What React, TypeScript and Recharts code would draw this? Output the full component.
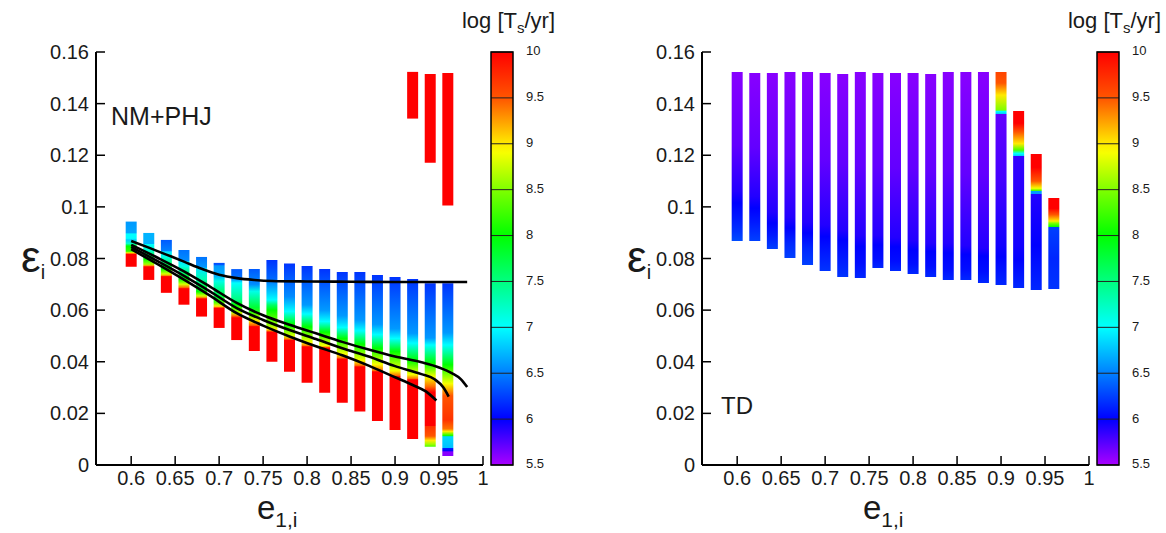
import React from 'react';
import { ComposedChart, XAxis, YAxis, ReferenceArea, Line } from 'recharts';

// ---------- data ----------
const E_GRID = [0.6, 0.62, 0.64, 0.66, 0.68, 0.7, 0.72, 0.74, 0.76, 0.78, 0.8, 0.82, 0.84, 0.86, 0.88, 0.9, 0.92, 0.94, 0.96];

const X_TICKS = [0.6, 0.65, 0.7, 0.75, 0.8, 0.85, 0.9, 0.95, 1];
const X_TICK_LABELS = ['0.6', '0.65', '0.7', '0.75', '0.8', '0.85', '0.9', '0.95', '1'];
const Y_TICKS = [0, 0.02, 0.04, 0.06, 0.08, 0.1, 0.12, 0.14, 0.16];
const Y_TICK_LABELS = ['0', '0.02', '0.04', '0.06', '0.08', '0.1', '0.12', '0.14', '0.16'];
const CBAR_TICKS = [5.5, 6, 6.5, 7, 7.5, 8, 8.5, 9, 9.5, 10];
const CBAR_LABELS = ['5.5', '6', '6.5', '7', '7.5', '8', '8.5', '9', '9.5', '10'];

// colour map anchors: log Ts -> hue
const HUE_V = [5.5, 6, 6.5, 7, 7.5, 8, 8.5, 9, 9.5, 10];
const HUE_H = [280, 240, 210, 180, 150, 120, 90, 55, 20, 0];

type Stop = [number, number]; // [epsilon, log Ts]

// NM+PHJ panel: per column, bands of stops (top -> bottom)
const NM_COLUMNS: Stop[][][] = [
  [[[0.0943, 6.6], [0.09, 6.65], [0.0895, 7.0], [0.0878, 7.0], [0.0872, 6.8], [0.0858, 7.2], [0.0848, 8.0], [0.0828, 8.2], [0.0822, 9.0], [0.0818, 9.6], [0.0816, 10], [0.0768, 10]]],
  [[[0.0899, 6.7], [0.0858, 6.7], [0.0855, 7.0], [0.083, 7.2], [0.0798, 8.0], [0.0778, 8.6], [0.0772, 9.3], [0.0768, 10], [0.0717, 10]]],
  [[[0.0872, 6.35], [0.083, 6.5], [0.0826, 6.9], [0.0805, 7.1], [0.076, 8.0], [0.074, 8.8], [0.0732, 9.4], [0.073, 10], [0.0667, 10]]],
  [[[0.0833, 6.45], [0.0792, 6.55], [0.0788, 6.9], [0.077, 7.1], [0.072, 8.0], [0.07, 8.8], [0.0688, 9.4], [0.0683, 10], [0.0621, 10]]],
  [[[0.0806, 6.45], [0.0766, 6.6], [0.0762, 6.9], [0.072, 7.3], [0.0672, 8.0], [0.0655, 8.8], [0.0647, 9.4], [0.0644, 10], [0.0575, 10]]],
  [[[0.0783, 6.3], [0.0775, 6.35], [0.0772, 6.6], [0.0732, 6.7], [0.0712, 7.1], [0.065, 7.8], [0.063, 8.3], [0.0615, 9.0], [0.061, 9.5], [0.0608, 10], [0.0531, 10]]],
  [[[0.0759, 6.35], [0.0724, 6.45], [0.0705, 7.0], [0.064, 7.5], [0.062, 8.0], [0.059, 8.7], [0.0578, 9.4], [0.057, 10], [0.0484, 10]]],
  [[[0.0759, 6.35], [0.07, 6.55], [0.0672, 7.1], [0.061, 7.8], [0.059, 8.2], [0.0558, 9.0], [0.054, 9.5], [0.0536, 10], [0.0442, 10]]],
  [[[0.0794, 6.2], [0.0724, 6.4], [0.064, 7.0], [0.062, 7.6], [0.06, 8.0], [0.054, 8.6], [0.0525, 9.0], [0.0518, 9.5], [0.0515, 10], [0.04, 10]]],
  [[[0.0781, 6.2], [0.0652, 6.55], [0.0595, 7.0], [0.0545, 8.0], [0.05, 8.8], [0.0487, 9.4], [0.0484, 10], [0.0361, 10]]],
  [[[0.0771, 6.2], [0.062, 6.6], [0.0585, 7.0], [0.0535, 8.0], [0.0475, 8.9], [0.0462, 9.4], [0.0458, 10], [0.0319, 10]]],
  [[[0.0759, 6.2], [0.06, 6.6], [0.0556, 7.0], [0.0515, 8.0], [0.0462, 8.9], [0.0456, 9.4], [0.0454, 10], [0.028, 10]]],
  [[[0.0748, 6.2], [0.0578, 6.6], [0.0533, 7.0], [0.049, 8.0], [0.043, 8.9], [0.0415, 9.4], [0.041, 10], [0.0241, 10]]],
  [[[0.0748, 6.2], [0.0562, 6.6], [0.052, 7.0], [0.0468, 8.0], [0.0405, 8.9], [0.0386, 9.4], [0.038, 10], [0.0207, 10]]],
  [[[0.0736, 6.2], [0.0545, 6.6], [0.0505, 7.0], [0.0452, 8.0], [0.039, 8.9], [0.0366, 9.4], [0.0361, 10], [0.017, 10]]],
  [[[0.0728, 6.2], [0.0528, 6.6], [0.049, 7.0], [0.044, 8.0], [0.0365, 8.9], [0.0347, 9.4], [0.0342, 10], [0.0136, 10]]],
  [[[0.1523, 10], [0.1342, 10]], [[0.0721, 6.2], [0.051, 6.6], [0.0472, 7.0], [0.0405, 8.0], [0.035, 8.9], [0.0335, 9.4], [0.033, 10], [0.0101, 10]]],
  [[[0.1515, 10], [0.1171, 10]], [[0.0704, 6.2], [0.0492, 6.6], [0.0465, 7.0], [0.0395, 8.0], [0.0342, 8.9], [0.0305, 9.4], [0.0282, 10], [0.0152, 10], [0.015, 9.7], [0.0112, 9.5], [0.0095, 9.0], [0.008, 8.6], [0.0071, 8.3]]],
  [[[0.1519, 10], [0.1005, 10]], [[0.0704, 6.2], [0.0512, 6.6], [0.0465, 7.0], [0.0388, 8.0], [0.0315, 8.9], [0.0268, 9.5], [0.0175, 9.7], [0.014, 9.4], [0.013, 9.0], [0.0118, 8.3], [0.0112, 8.0], [0.011, 6.85], [0.0065, 6.75], [0.0064, 6.1], [0.0053, 6.0], [0.0052, 5.6], [0.0035, 5.6]]],
];

// TD panel: one band per column (top -> bottom)
const TD_COLUMNS: Stop[][][] = [
  [[[0.1523, 5.6], [0.124, 5.71], [0.106, 5.9], [0.1015, 6.0], [0.0955, 6.1], [0.0905, 6.2], [0.0868, 6.3]]],
  [[[0.1519, 5.6], [0.123, 5.71], [0.104, 5.9], [0.0995, 6.0], [0.094, 6.1], [0.0868, 6.25]]],
  [[[0.1519, 5.6], [0.121, 5.71], [0.098, 5.9], [0.0937, 6.0], [0.089, 6.1], [0.0837, 6.25]]],
  [[[0.1523, 5.6], [0.12, 5.71], [0.096, 5.9], [0.0918, 6.0], [0.086, 6.15], [0.0802, 6.25]]],
  [[[0.1523, 5.6], [0.119, 5.71], [0.094, 5.9], [0.0899, 6.0], [0.084, 6.15], [0.0775, 6.25]]],
  [[[0.1519, 5.6], [0.118, 5.71], [0.093, 5.9], [0.0885, 6.0], [0.082, 6.1], [0.0752, 6.2]]],
  [[[0.1515, 5.6], [0.117, 5.71], [0.091, 5.9], [0.0872, 6.0], [0.08, 6.1], [0.0728, 6.2]]],
  [[[0.1523, 5.6], [0.116, 5.71], [0.089, 5.9], [0.0846, 6.0], [0.078, 6.05], [0.0724, 6.15]]],
  [[[0.1519, 5.6], [0.116, 5.71], [0.089, 5.9], [0.0852, 6.0], [0.08, 6.05], [0.0763, 6.15]]],
  [[[0.1519, 5.6], [0.115, 5.71], [0.088, 5.9], [0.0845, 6.0], [0.079, 6.05], [0.0752, 6.15]]],
  [[[0.1519, 5.6], [0.115, 5.71], [0.087, 5.9], [0.0833, 6.0], [0.078, 6.05], [0.074, 6.15]]],
  [[[0.1515, 5.6], [0.114, 5.71], [0.086, 5.9], [0.0827, 6.0], [0.077, 6.05], [0.0728, 6.15]]],
  [[[0.1523, 5.6], [0.114, 5.71], [0.086, 5.9], [0.0821, 6.0], [0.076, 6.05], [0.0717, 6.15]]],
  [[[0.1523, 5.6], [0.113, 5.71], [0.085, 5.9], [0.0815, 6.0], [0.076, 6.05], [0.0717, 6.15]]],
  [[[0.1523, 5.6], [0.113, 5.71], [0.084, 5.9], [0.081, 6.0], [0.075, 6.05], [0.0705, 6.15]]],
  [[[0.1523, 9.6], [0.148, 9.5], [0.1433, 9.0], [0.1375, 8.5], [0.137, 7.0], [0.136, 6.8], [0.1359, 5.71], [0.11, 5.8], [0.085, 5.95], [0.0807, 6.0], [0.0697, 6.15]]],
  [[[0.1371, 10], [0.1324, 10], [0.129, 9.5], [0.1245, 9.0], [0.122, 8.3], [0.1207, 7.0], [0.1197, 6.8], [0.1196, 5.85], [0.085, 5.95], [0.0794, 6.0], [0.0686, 6.15]]],
  [[[0.1205, 10], [0.1153, 10], [0.11, 9.5], [0.1072, 8.9], [0.1062, 8.2], [0.1061, 6.6], [0.105, 6.6], [0.1049, 5.9], [0.085, 6.0], [0.0678, 6.15]]],
  [[[0.1034, 10], [0.0994, 10], [0.097, 9.5], [0.0945, 9.0], [0.0937, 8.5], [0.0922, 8.0], [0.0921, 6.25], [0.08, 6.15], [0.0682, 6.2]]],
];

// black curves, NM+PHJ panel: [e, epsilon]
const CURVE_A: Stop[] = [[0.6, 0.0868], [0.62, 0.0842], [0.64, 0.0815], [0.66, 0.0788], [0.68, 0.076], [0.7, 0.0737], [0.72, 0.0724], [0.74, 0.0717], [0.76, 0.0713], [0.8, 0.0711], [0.85, 0.071], [0.9, 0.0709], [0.95, 0.0709], [0.982, 0.0709]];
const CURVE_B: Stop[] = [[0.6, 0.0853], [0.63, 0.0803], [0.66, 0.075], [0.69, 0.069], [0.72, 0.0628], [0.75, 0.058], [0.78, 0.0543], [0.81, 0.051], [0.84, 0.0477], [0.87, 0.0447], [0.9, 0.042], [0.93, 0.0398], [0.95, 0.0378], [0.965, 0.0355], [0.975, 0.0332], [0.982, 0.0302]];
const CURVE_C: Stop[] = [[0.6, 0.0845], [0.63, 0.079], [0.66, 0.0733], [0.69, 0.0672], [0.72, 0.0608], [0.75, 0.0562], [0.78, 0.0523], [0.81, 0.0488], [0.84, 0.0452], [0.87, 0.042], [0.9, 0.0383], [0.93, 0.0352], [0.945, 0.0332], [0.955, 0.03], [0.961, 0.0265]];
const CURVE_D: Stop[] = [[0.6, 0.0836], [0.63, 0.0778], [0.66, 0.0718], [0.69, 0.0655], [0.72, 0.0588], [0.75, 0.054], [0.78, 0.0498], [0.81, 0.046], [0.84, 0.0425], [0.87, 0.0385], [0.9, 0.034], [0.92, 0.031], [0.935, 0.0285], [0.947, 0.025]];
const NM_CURVES = [CURVE_A, CURVE_B, CURVE_C, CURVE_D];

// ---------- styling ----------
const FONT = "'Liberation Sans', Arial, Helvetica, sans-serif";
const CHART_W = 583;
const CHART_H = 533;
const PANEL_OFFSET = 606;
const HALF_W = 0.00625;
const CB = { x: 491, w: 22, top: 52, bottom: 465 };

function hueOf(v: number): number {
  const c = Math.max(HUE_V[0], Math.min(HUE_V[HUE_V.length - 1], v));
  for (let i = 0; i < HUE_V.length - 1; i++) {
    if (c <= HUE_V[i + 1]) {
      const t = (c - HUE_V[i]) / (HUE_V[i + 1] - HUE_V[i]);
      return HUE_H[i] + t * (HUE_H[i + 1] - HUE_H[i]);
    }
  }
  return HUE_H[HUE_H.length - 1];
}
const colorOf = (v: number) => `hsl(${hueOf(v).toFixed(1)},100%,50%)`;

function bandGradient(id: string, band: Stop[]) {
  const top = band[0][0];
  const bot = band[band.length - 1][0];
  const span = top - bot || 1;
  return (
    <linearGradient key={id} id={id} x1="0" y1="0" x2="0" y2="1">
      {band.map((s, i) => (
        <stop key={i} offset={((top - s[0]) / span).toFixed(4)} stopColor={colorOf(s[1])} />
      ))}
    </linearGradient>
  );
}

function Panel({ columns, prefix, curves }: { columns: Stop[][][]; prefix: string; curves: Stop[][] }) {
  const axisLine = { stroke: '#000', strokeWidth: 2 };
  const tickLine = { stroke: '#000', strokeWidth: 1.5 };
  const tickStyle = { fill: '#1a1a1a', fontSize: 20, fontFamily: FONT };
  return (
    <ComposedChart width={CHART_W} height={CHART_H} margin={{ top: 52, right: 100, bottom: 0, left: 0 }}>
      <XAxis
        xAxisId="b" dataKey="x" type="number" domain={[0.56, 1]} allowDataOverflow ticks={X_TICKS} interval={0}
        tickFormatter={(v: number) => X_TICK_LABELS[X_TICKS.indexOf(v)] ?? ''}
        orientation="bottom" height={68} tickSize={-9} tickMargin={15}
        axisLine={axisLine} tickLine={tickLine} tick={tickStyle}
      />
      <XAxis
        xAxisId="t" dataKey="x" type="number" domain={[0.56, 1]} allowDataOverflow ticks={X_TICKS} interval={0}
        tickFormatter={() => ''} orientation="top" height={0} tickSize={-9}
        axisLine={axisLine} tickLine={tickLine}
      />
      <YAxis
        yAxisId="l" type="number" domain={[0, 0.16]} allowDataOverflow ticks={Y_TICKS} interval={0}
        tickFormatter={(v: number) => Y_TICK_LABELS[Y_TICKS.indexOf(v)] ?? ''}
        orientation="left" width={96} tickSize={-9} tickMargin={16}
        axisLine={axisLine} tickLine={tickLine} tick={tickStyle}
      />
      <YAxis
        yAxisId="r" type="number" domain={[0, 0.16]} allowDataOverflow ticks={Y_TICKS} interval={0}
        tickFormatter={() => ''} orientation="right" width={0} tickSize={-9}
        axisLine={axisLine} tickLine={tickLine}
      />
      {columns.flatMap((bands, ci) =>
        bands.map((band, bi) => (
          <ReferenceArea
            key={`${prefix}-${ci}-${bi}`}
            xAxisId="b" yAxisId="l"
            x1={E_GRID[ci] - HALF_W} x2={E_GRID[ci] + HALF_W}
            y1={band[band.length - 1][0]} y2={band[0][0]}
            fill={`url(#${prefix}-${ci}-${bi})`} fillOpacity={1} stroke="none"
            ifOverflow="visible"
          />
        ))
      )}
      {curves.map((c, i) => (
        <Line
          key={`curve-${i}`}
          xAxisId="b" yAxisId="l"
          data={c.map(([x, y]) => ({ x, y }))}
          dataKey="y" type="monotone" stroke="#000" strokeWidth={2.6}
          dot={false} activeDot={false} isAnimationActive={false}
        />
      ))}
    </ComposedChart>
  );
}

function ColorBar({ dx }: { dx: number }) {
  const yOf = (v: number) => CB.bottom - ((v - 5.5) / 4.5) * (CB.bottom - CB.top);
  const fine: number[] = [];
  for (let k = 0; k <= 45; k++) fine.push(10 - k * 0.1);
  return (
    <g transform={`translate(${dx},0)`}>
      <defs>
        <linearGradient id={`cbar-${dx}`} x1="0" y1="0" x2="0" y2="1">
          {fine.map((v, i) => (
            <stop key={i} offset={((10 - v) / 4.5).toFixed(4)} stopColor={colorOf(v)} />
          ))}
        </linearGradient>
      </defs>
      <rect x={CB.x} y={CB.top} width={CB.w} height={CB.bottom - CB.top} fill={`url(#cbar-${dx})`} />
      {CBAR_TICKS.map((v, i) => (
        <g key={i}>
          <line x1={CB.x} x2={CB.x + CB.w} y1={yOf(v)} y2={yOf(v)} stroke="#222" strokeWidth={1} />
          <text x={CB.x + 35} y={yOf(v)} fontSize={13} fill="#1a1a1a" fontFamily={FONT} dominantBaseline="middle">
            {CBAR_LABELS[i]}
          </text>
        </g>
      ))}
      <rect x={CB.x} y={CB.top} width={CB.w} height={CB.bottom - CB.top} fill="none" stroke="#000" strokeWidth={1.5} />
      <text x={555} y={28} textAnchor="end" fontSize={22} fill="#1a1a1a" fontFamily={FONT}>
        log [T<tspan fontSize={15} dy={5}>s</tspan><tspan dy={-5}>/yr]</tspan>
      </text>
    </g>
  );
}

function AxisTitles({ dx }: { dx: number }) {
  return (
    <g transform={`translate(${dx},0)`} fontFamily={FONT} fill="#1a1a1a">
      <text x={21} y={272} fontSize={44}>
        ε<tspan fontSize={20} dy={7}>i</tspan>
      </text>
      <text x={257} y={519} fontSize={33}>
        e<tspan fontSize={21} dy={8}>1,i</tspan>
      </text>
    </g>
  );
}

export default function App() {
  const gradients: React.ReactNode[] = [];
  NM_COLUMNS.forEach((bands, ci) => bands.forEach((b, bi) => gradients.push(bandGradient(`nm-${ci}-${bi}`, b))));
  TD_COLUMNS.forEach((bands, ci) => bands.forEach((b, bi) => gradients.push(bandGradient(`td-${ci}-${bi}`, b))));
  return (
    <div style={{ position: 'absolute', left: 0, top: 0, width: 1166, height: 533, background: '#fff', fontFamily: FONT, overflow: 'hidden' }}>
      <svg width={0} height={0} style={{ position: 'absolute' }}>
        <defs>{gradients}</defs>
      </svg>
      <div style={{ position: 'absolute', left: 0, top: 0 }}>
        <Panel columns={NM_COLUMNS} prefix="nm" curves={NM_CURVES} />
      </div>
      <div style={{ position: 'absolute', left: PANEL_OFFSET, top: 0 }}>
        <Panel columns={TD_COLUMNS} prefix="td" curves={[]} />
      </div>
      <svg width={1166} height={533} style={{ position: 'absolute', left: 0, top: 0, pointerEvents: 'none' }}>
        <ColorBar dx={0} />
        <ColorBar dx={PANEL_OFFSET} />
        <AxisTitles dx={0} />
        <AxisTitles dx={PANEL_OFFSET} />
        <text x={111} y={125} fontSize={25} fill="#1a1a1a" fontFamily={FONT}>NM+PHJ</text>
        <text x={721} y={414} fontSize={24} fill="#1a1a1a" fontFamily={FONT}>TD</text>
      </svg>
    </div>
  );
}
